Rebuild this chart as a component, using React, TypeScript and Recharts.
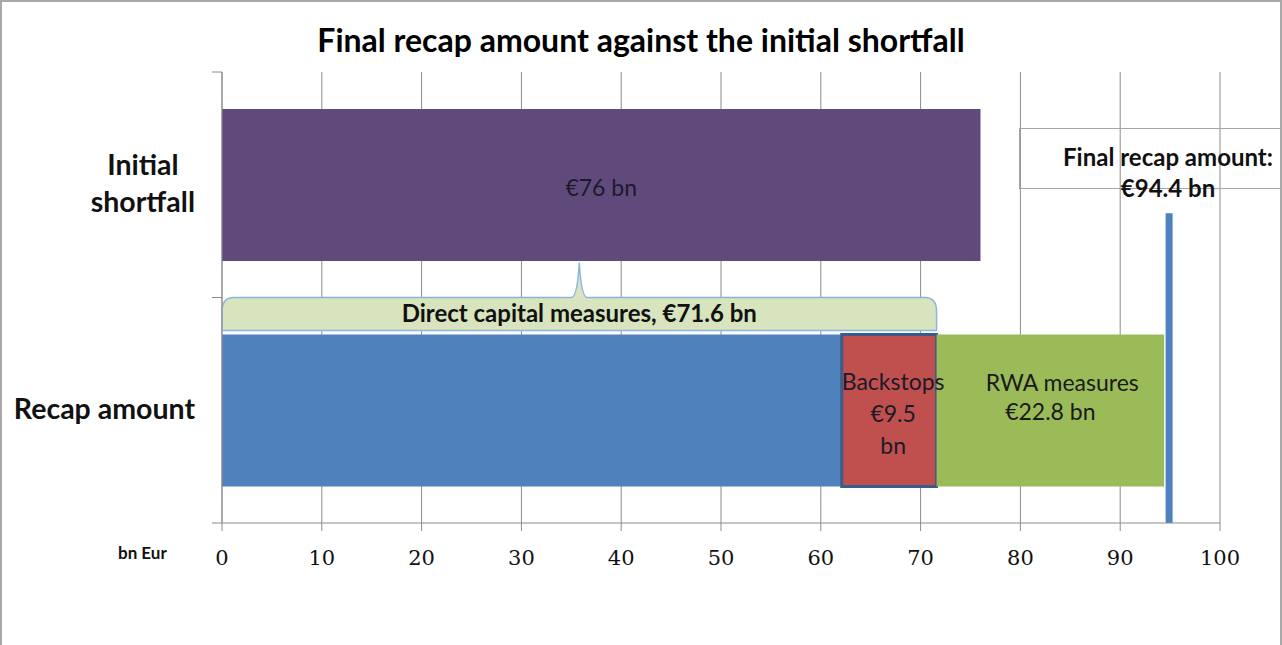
import React from 'react'
import {
  BarChart,
  Bar,
  XAxis,
  YAxis,
  CartesianGrid,
  LabelList,
  ReferenceArea,
  ReferenceLine,
} from 'recharts'

// chart values (bn EUR)
const categories = ['Initial shortfall', 'Recap amount']
const categoryLines = [['Initial', 'shortfall'], ['Recap amount']]
const initialShortfall = [76, 0]
const directMeasures = [0, 62.1]
const backstops = [0, 9.5]
const rwaMeasures = [0, 22.8]
const xTicks = [0, 10, 20, 30, 40, 50, 60, 70, 80, 90, 100]
const directCapitalTotal = 71.6
const finalRecapMarker = 94.9

const SANS = 'Lato, "Open Sans", sans-serif'
const SERIF = '"DejaVu Serif", "Liberation Serif", serif'
const GRID = '#8c8c8c'

const WIDTH = 1282
const HEIGHT = 645
const PLOT_TOP = 72
const PLOT_BOTTOM = 523
const BAND = (PLOT_BOTTOM - PLOT_TOP) / categories.length

const chartData = categories.map((name, i) => ({
  name,
  initial: initialShortfall[i],
  direct: directMeasures[i],
  backstops: backstops[i],
  rwa: rwaMeasures[i],
}))

let measureCtx: CanvasRenderingContext2D | null = null
function textWidth(text: string, font: string) {
  if (!measureCtx) measureCtx = document.createElement('canvas').getContext('2d')
  if (!measureCtx) return text.length * 13
  measureCtx.font = font
  return measureCtx.measureText(text).width
}

// category labels on the left, centred block ending near the axis
function CategoryTick(props: any) {
  const { x, y, payload, index } = props
  const lines = categoryLines[index] ?? [payload.value]
  const font = `bold 28.5px ${SANS}`
  const maxW = Math.max(...lines.map((l: string) => textWidth(l, font)))
  const cx = x - 19 - maxW / 2
  const lineH = 37
  const startY = y - ((lines.length - 1) * lineH) / 2 - 2
  return (
    <g>
      <line x1={x - 2} x2={x + 8} y1={y - BAND / 2} y2={y - BAND / 2} stroke={GRID} />
      <line x1={x - 2} x2={x + 8} y1={y + BAND / 2} y2={y + BAND / 2} stroke={GRID} />
      {lines.map((l: string, i: number) => (
        <text
          key={l}
          x={cx}
          y={startY + i * lineH}
          textAnchor="middle"
          dominantBaseline="central"
          fontFamily={SANS}
          fontWeight="bold"
          fontSize={28.5}
          fill="#111"
        >
          {l}
        </text>
      ))}
    </g>
  )
}

function ValueTick(props: any) {
  const { x, y, payload } = props
  return (
    <text
      x={x}
      y={y + 25}
      textAnchor="middle"
      dominantBaseline="central"
      fontFamily={SERIF}
      fontSize={21}
      fill="#111"
    >
      {payload.value}
    </text>
  )
}

function InitialLabel(props: any) {
  const { x, y, width, height, value } = props
  if (!value) return null
  return (
    <text
      x={x + width / 2}
      y={y + height / 2 + 2}
      textAnchor="middle"
      dominantBaseline="central"
      fontFamily={SANS}
      fontSize={23}
      fill="#1a1a2a"
    >
      €{value} bn
    </text>
  )
}

function BackstopLabel(props: any) {
  const { x, y, width, height, value } = props
  if (!value) return null
  const cx = x + width / 2 + 4
  const cy = y + height / 2
  const lines = ['Backstops', `€${value}`, 'bn']
  return (
    <g>
      {lines.map((l, i) => (
        <text
          key={l}
          x={cx}
          y={cy - 30 + i * 32}
          textAnchor="middle"
          dominantBaseline="central"
          fontFamily={SANS}
          fontSize={23}
          fill="#1a1a2a"
        >
          {l}
        </text>
      ))}
    </g>
  )
}

function RwaLabel(props: any) {
  const { x, y, width, height, value } = props
  if (!value) return null
  const cy = y + height / 2
  return (
    <g fontFamily={SANS} fontSize={23} fill="#1a1a1a">
      <text x={x + width / 2 + 12} y={cy - 29} textAnchor="middle" dominantBaseline="central">
        RWA measures
      </text>
      <text x={x + width / 2} y={cy} textAnchor="middle" dominantBaseline="central">
        €{value} bn
      </text>
    </g>
  )
}

// brace-like callout spanning the direct capital measures
function DirectBrace(props: any) {
  const { x, y, width, height } = props
  const x0 = x
  const x1 = x + width
  const cx = x + width / 2
  const t = y + height / 2
  const b = t + 33
  const d = [
    `M ${x0} ${b}`,
    `L ${x0} ${t + 14}`,
    `Q ${x0} ${t} ${x0 + 12} ${t}`,
    `L ${cx - 8} ${t}`,
    `Q ${cx - 2} ${t} ${cx} ${t - 35}`,
    `Q ${cx + 2} ${t} ${cx + 8} ${t}`,
    `L ${x1 - 12} ${t}`,
    `Q ${x1} ${t} ${x1} ${t + 14}`,
    `L ${x1} ${b}`,
    'Z',
  ].join(' ')
  return (
    <g>
      <path d={d} fill="#d7e4bd" stroke="#8db3e2" strokeWidth={1.5} />
      <text
        x={cx}
        y={t + 15}
        textAnchor="middle"
        dominantBaseline="central"
        fontFamily={SANS}
        fontWeight="bold"
        fontSize={24}
        fill="#111"
      >
        Direct capital measures, €{directCapitalTotal} bn
      </text>
    </g>
  )
}

function FinalMarker(props: any) {
  const { x1, y1, y2 } = props
  const top = Math.min(y1, y2)
  const bottom = Math.max(y1, y2)
  const start = top + (bottom - top) * 0.313
  return <line x1={x1} x2={x1} y1={start} y2={bottom} stroke="#4f81bd" strokeWidth={7} />
}

export default function App() {
  return (
    <div
      style={{
        position: 'fixed',
        left: 0,
        top: 0,
        width: WIDTH,
        height: HEIGHT,
        background: '#fff',
        overflow: 'hidden',
        boxSizing: 'border-box',
        borderLeft: '2px solid #a8a8a8',
        borderTop: '2px solid #a8a8a8',
        borderRight: '2px solid #a8a8a8',
        outline: 'none',
      }}
    >
      <div
        style={{
          position: 'absolute',
          left: -2,
          width: WIDTH,
          top: 18,
          textAlign: 'center',
          fontFamily: SANS,
          fontWeight: 'bold',
          fontSize: 32,
          color: '#000',
        }}
      >
        Final recap amount against the initial shortfall
      </div>
      <BarChart
        width={WIDTH}
        height={HEIGHT}
        data={chartData}
        layout="vertical"
        margin={{ top: PLOT_TOP, right: 62, bottom: 82, left: 22 }}
        style={{ position: 'absolute', left: -2, top: -2 }}
      >
        <CartesianGrid horizontal={false} stroke={GRID} />
        <XAxis
          type="number"
          domain={[0, 100]}
          ticks={xTicks}
          height={40}
          axisLine={{ stroke: GRID }}
          tickLine={{ stroke: GRID }}
          tickSize={8}
          tick={<ValueTick />}
          interval={0}
        />
        <YAxis
          type="category"
          dataKey="name"
          width={200}
          axisLine={{ stroke: GRID }}
          tickLine={false}
          tick={<CategoryTick />}
          interval={0}
        />
        <Bar dataKey="initial" stackId="a" fill="#604a7b" barSize={152} isAnimationActive={false}>
          <LabelList dataKey="initial" content={<InitialLabel />} />
        </Bar>
        <Bar dataKey="direct" stackId="a" fill="#4f81bd" barSize={152} isAnimationActive={false} />
        <Bar
          dataKey="backstops"
          stackId="a"
          fill="#c0504d"
          stroke="#385d8a"
          strokeWidth={3}
          barSize={152}
          isAnimationActive={false}
        >
          <LabelList dataKey="backstops" content={<BackstopLabel />} />
        </Bar>
        <Bar dataKey="rwa" stackId="a" fill="#9bbb59" barSize={152} isAnimationActive={false}>
          <LabelList dataKey="rwa" content={<RwaLabel />} />
        </Bar>
        <ReferenceArea x1={0} x2={directCapitalTotal} ifOverflow="visible" shape={<DirectBrace />} />
        <ReferenceLine x={finalRecapMarker} ifOverflow="visible" shape={<FinalMarker />} />
      </BarChart>
      <div
        style={{
          position: 'absolute',
          left: 1017,
          top: 126,
          width: 280,
          height: 61,
          border: '1px solid #a6a6a6',
          boxSizing: 'border-box',
        }}
      />
      <div
        style={{
          position: 'absolute',
          left: 1028,
          width: 276,
          top: 139,
          textAlign: 'center',
          fontFamily: SANS,
          fontWeight: 'bold',
          fontSize: 24,
          lineHeight: '31px',
          color: '#111',
        }}
      >
        Final recap amount:
        <br />
        €94.4 bn
      </div>
      <div
        style={{
          position: 'absolute',
          left: 116,
          top: 540,
          fontFamily: SANS,
          fontWeight: 'bold',
          fontSize: 17,
          color: '#111',
        }}
      >
        bn Eur
      </div>
    </div>
  )
}
